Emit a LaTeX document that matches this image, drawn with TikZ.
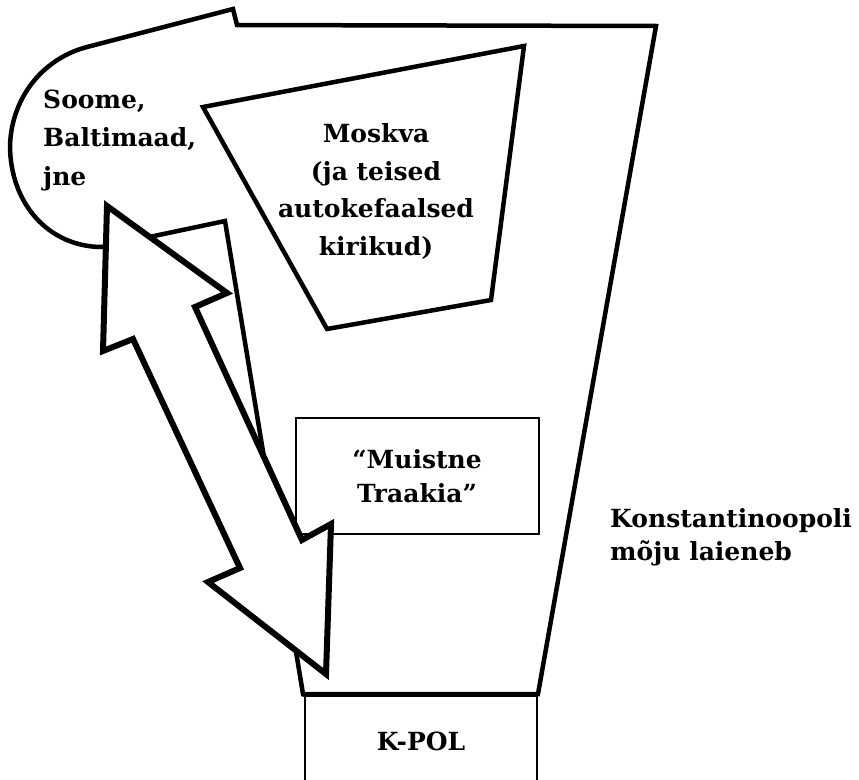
\documentclass[tikz,border=0pt]{standalone}
\usepackage{fontspec}
\setmainfont{DejaVu Serif}
\begin{document}
\begin{tikzpicture}[x=1pt,y=-1pt,
  outline/.style={draw=black, line width=4.5pt, line join=miter},
  thinbox/.style={draw=black, line width=2pt},
  bigarrow/.style={draw=black, fill=white, line width=6pt, line join=miter},
  lbl/.style={font=\bfseries\fontsize{25}{37.5}\selectfont, inner sep=0pt}]
\useasboundingbox (0,0) rectangle (859,779);

% big region of influence
\draw[outline] (233,9) -- (237,25) -- (656,26) -- (538,694) -- (303,694) -- (225,221) -- (102,247)
  .. controls (50,247) and (10,205) .. (10,145)
  .. controls (12,95) and (45,58) .. (87,47) -- cycle;
\draw[line width=5pt] (303,694) -- (538,694);

% Moskva quadrilateral
\draw[outline] (203,107) -- (524,46) -- (491,300) -- (327,329) -- cycle;

% boxes
\draw[thinbox] (296,418) rectangle (539,534);
\draw[thinbox] (305,790) -- (305,694) -- (537,694) -- (537,790);

% double arrow
\draw[bigarrow] (107,206) -- (227,293) -- (195,307) -- (302,540) -- (331,524) -- (326,674)
  -- (208,582) -- (240,568) -- (133,339) -- (103,351) -- cycle;

% texts
\node[lbl, align=left, anchor=west, font=\bfseries\fontsize{25}{38.5}\selectfont] (soome) at (43,140.3) {Soome,\\Baltimaad,\\jne};
\node[lbl, align=center] (moskva) at (376,191.6) {Moskva\\(ja teised\\autokefaalsed\\kirikud)};
\node[lbl, align=center, font=\bfseries\fontsize{25}{34}\selectfont] (traakia) at (417,475.7) {“Muistne\\Traakia”};
\node[lbl, align=left, anchor=west, font=\bfseries\fontsize{25}{33}\selectfont] (kpolmoju) at (610,537.1) {Konstantinoopoli\\mõju laieneb};
\node[lbl, anchor=base] (kpol) at (421,750) {K-POL};
\end{tikzpicture}
\end{document}
